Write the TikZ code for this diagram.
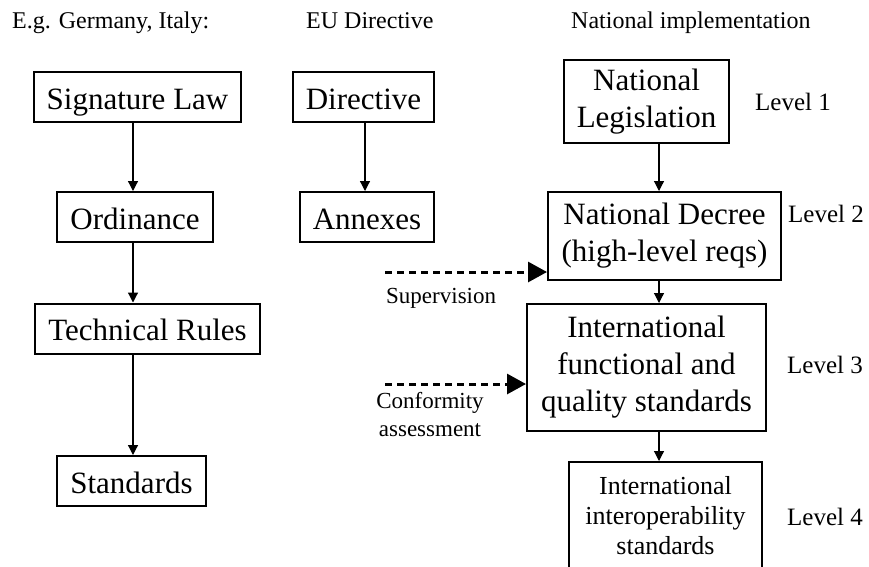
\documentclass[tikz,border=0pt]{standalone}
\usepackage{fontspec}
\setmainfont{Liberation Serif}
\usetikzlibrary{arrows.meta}

\begin{document}
\begin{tikzpicture}[
        x=1pt, y=-1pt,
        box/.style={draw, line width=2pt, inner xsep=13pt, inner ysep=0pt, minimum height=50pt,
            align=center, font=\fontsize{31}{37}\selectfont},
        onebox/.style={box, text height=24pt, text depth=0pt},
        smallbox/.style={box, inner xsep=16pt, font=\fontsize{26}{30}\selectfont},
        head/.style={inner sep=0pt, anchor=base west, font=\fontsize{24}{28}\selectfont},
        lvl/.style={inner sep=0pt, anchor=base west, font=\fontsize{25}{30}\selectfont},
        note/.style={inner sep=0pt, align=center, font=\fontsize{23}{28}\selectfont},
        link/.style={draw, line width=1.2pt, -{Triangle[length=10pt, width=10pt]}},
        feed/.style={draw, line width=3pt, dash pattern=on 7pt off 5pt,
            -{Triangle[length=19pt, width=20pt]}},
    ]
    \useasboundingbox (0,0) rectangle (869,566);
    \clip (0,0) rectangle (869,566);

    % column headings
    \node[head] (hcountry) at (12,28) {E.g. Germany, Italy:};
    \node[head] (hdirective) at (306,28) {EU Directive};
    \node[head] (hnational) at (571,28) {National implementation};

    % example country
    \coordinate (lspine) at (133,0);
    \node[onebox] (siglaw) at (137.5,97) {Signature Law};
    \node[onebox] (ordin) at (135,217) {Ordinance};
    \node[onebox] (techrules) at (147.5,328.5) {Technical Rules};
    \node[onebox] (stds) at (131.5,481) {Standards};
    \draw[link] (siglaw.south -| lspine) -- (ordin.north -| lspine);
    \draw[link] (ordin.south -| lspine) -- (techrules.north -| lspine);
    \draw[link] (techrules.south -| lspine) -- (stds.north -| lspine);

    % EU directive
    \coordinate (mspine) at (365,0);
    \node[onebox] (directive) at (363.5,97) {Directive};
    \node[onebox] (annexes) at (367,217) {Annexes};
    \draw[link] (directive.south -| mspine) -- (annexes.north -| mspine);

    % national implementation
    \coordinate (rspine) at (659,0);
    \node[box, minimum width=165pt, minimum height=83pt] (natleg) at (646.5,101.5) {National\\Legislation};
    \node[box, minimum width=233pt, minimum height=88pt] (natdec) at (664.5,236) {National Decree\\(high-level reqs)};
    \node[box, minimum width=239pt, minimum height=127pt] (intfunc) at (646.5,367.5) {International\\functional and\\quality standards\rule[-6pt]{0pt}{6pt}};
    \node[smallbox, anchor=north, minimum width=193pt, minimum height=108pt] (intinter) at (665.5,461) {International\\interoperability\\standards};
    \draw[link] (natleg.south -| rspine) -- (natdec.north -| rspine);
    \draw[link] (natdec.south -| rspine) -- (intfunc.north -| rspine);
    \draw[link] (intfunc.south -| rspine) -- (intinter.north -| rspine);

    \node[lvl] (lvl1) at (755,110) {Level 1};
    \node[lvl] (lvl2) at (788,222) {Level 2};
    \node[lvl] (lvl3) at (787,373) {Level 3};
    \node[lvl] (lvl4) at (787,525) {Level 4};

    % supervision and conformity assessment
    \coordinate (supfrom) at (385,272);
    \coordinate (conffrom) at (385,384);
    \draw[feed] (supfrom) -- (supfrom -| natdec.west);
    \draw[feed] (conffrom) -- (conffrom -| intfunc.west);
    \node[note, anchor=base west] (suptxt) at (386,303) {Supervision};
    \node[note, anchor=north] (conftxt) at (430,392.5) {Conformity\\assessment};

\end{tikzpicture}
\end{document}
